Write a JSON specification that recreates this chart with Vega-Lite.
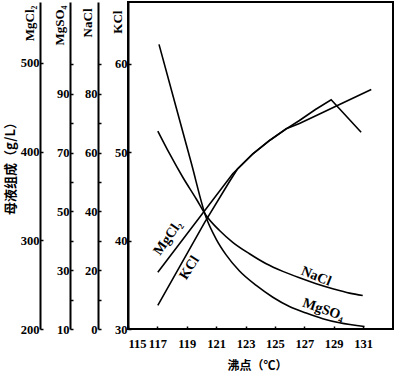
{
  "$schema": "https://vega.github.io/schema/vega-lite/v6.json",
  "autosize": {"type": "none"},
  "padding": {"left": 128, "top": 2, "right": 2, "bottom": 43},
  "width": 265,
  "height": 327,
  "title": {"text": "母液组成（g/L）", "orient": "left", "anchor": "middle", "font": "Noto Sans CJK SC", "fontSize": 13, "fontWeight": "bold", "color": "black", "offset": 2},
  "datasets": {
    "c": [
      {"s": "MgSO4", "t": 117.11, "v": 106.8},
      {"s": "MgSO4", "t": 118.28, "v": 85.3},
      {"s": "MgSO4", "t": 119.3, "v": 66.6},
      {"s": "MgSO4", "t": 120.32, "v": 47.9},
      {"s": "MgSO4", "t": 121.0, "v": 40.6},
      {"s": "MgSO4", "t": 121.68, "v": 35.2},
      {"s": "MgSO4", "t": 122.59, "v": 29.7},
      {"s": "MgSO4", "t": 123.73, "v": 24.8},
      {"s": "MgSO4", "t": 124.86, "v": 20.8},
      {"s": "MgSO4", "t": 125.99, "v": 17.65},
      {"s": "MgSO4", "t": 127.13, "v": 15.4},
      {"s": "MgSO4", "t": 128.26, "v": 13.5},
      {"s": "MgSO4", "t": 129.4, "v": 12.1},
      {"s": "MgSO4", "t": 131.1, "v": 10.85},
      {"s": "NaCl", "t": 117.03, "v": 67.3},
      {"s": "NaCl", "t": 117.83, "v": 59.6},
      {"s": "NaCl", "t": 118.73, "v": 51.6},
      {"s": "NaCl", "t": 119.64, "v": 44.3},
      {"s": "NaCl", "t": 120.32, "v": 38.6},
      {"s": "NaCl", "t": 121.23, "v": 33.5},
      {"s": "NaCl", "t": 122.13, "v": 29.5},
      {"s": "NaCl", "t": 123.27, "v": 25.6},
      {"s": "NaCl", "t": 124.41, "v": 22.2},
      {"s": "NaCl", "t": 125.54, "v": 19.6},
      {"s": "NaCl", "t": 126.67, "v": 17.4},
      {"s": "NaCl", "t": 127.81, "v": 15.4},
      {"s": "NaCl", "t": 128.94, "v": 13.7},
      {"s": "NaCl", "t": 130.08, "v": 12.2},
      {"s": "NaCl", "t": 130.98, "v": 11.4},
      {"s": "MgCl2", "t": 117.03, "v": 264.0},
      {"s": "MgCl2", "t": 122.13, "v": 375.0},
      {"s": "MgCl2", "t": 123.5, "v": 397.5},
      {"s": "MgCl2", "t": 124.63, "v": 412.5},
      {"s": "MgCl2", "t": 125.77, "v": 425.7},
      {"s": "MgCl2", "t": 126.67, "v": 431.7},
      {"s": "MgCl2", "t": 128.04, "v": 442.4},
      {"s": "MgCl2", "t": 129.4, "v": 453.1},
      {"s": "MgCl2", "t": 131.56, "v": 470.0},
      {"s": "KCl", "t": 117.03, "v": 32.66},
      {"s": "KCl", "t": 120.21, "v": 42.03},
      {"s": "KCl", "t": 121.91, "v": 46.67},
      {"s": "KCl", "t": 122.45, "v": 48.08},
      {"s": "KCl", "t": 123.5, "v": 49.8},
      {"s": "KCl", "t": 124.63, "v": 51.3},
      {"s": "KCl", "t": 125.77, "v": 52.62},
      {"s": "KCl", "t": 126.67, "v": 53.56},
      {"s": "KCl", "t": 127.76, "v": 54.8},
      {"s": "KCl", "t": 128.83, "v": 55.9},
      {"s": "KCl", "t": 130.87, "v": 52.24}
    ],
    "lab": [
      {"s": "MgCl2", "t": 117.71, "v": 302.6, "text": "MgCl₂"},
      {"s": "KCl", "t": 119.19, "v": 36.9, "text": "KCl"},
      {"s": "NaCl", "t": 127.81, "v": 17.9, "text": "NaCl"},
      {"s": "MgSO4", "t": 128.31, "v": 16.6, "text": "MgSO₄"}
    ]
  },
  "encoding": {
    "x": {"field": "t", "type": "quantitative",
      "scale": {"domain": [115, 133.04], "nice": false, "zero": false},
      "axis": {"values": [115, 117, 119, 121, 123, 125, 127, 129, 131], "format": "d", "title": "沸点（℃）", "titleFont": "Noto Sans CJK SC", "titleFontSize": 12, "tickSize": -3, "labelPadding": 11, "titlePadding": 11, "titleX": 129, "domain": false}}
  },
  "layer": [
    {
      "encoding": {"y": {"field": "v", "type": "quantitative",
        "scale": {"domain": [30, 66.95], "nice": false, "zero": false},
        "axis": {"orient": "left", "offset": 0, "values": [30, 40, 50, 60], "title": "KCl", "titleX": -11, "titleY": 8, "titleAngle": -90, "titleAlign": "right", "titleBaseline": "middle"}}},
      "layer": [
        {"data": {"name": "c"}, "transform": [{"filter": "datum.s == 'KCl'"}], "mark": {"type": "line", "color": "black", "strokeWidth": 1.6}},
        {"data": {"name": "lab"}, "transform": [{"filter": "datum.s == 'KCl'"}], "mark": {"type": "text", "angle": -58, "font": "Liberation Serif", "fontSize": 14, "fontWeight": "bold", "color": "black"}, "encoding": {"text": {"field": "text"}}}
      ]
    },
    {
      "encoding": {"y": {"field": "v", "type": "quantitative",
        "scale": {"domain": [0, 111.2], "nice": false, "zero": false},
        "axis": {"orient": "left", "offset": 30, "values": [0, 10, 20, 30, 40, 50, 60, 70, 80, 90], "labelExpr": "datum.value % 20 == 0 ? datum.label : ''", "title": "NaCl", "titleX": -11, "titleY": 6, "titleAngle": -90, "titleAlign": "right", "titleBaseline": "middle"}}},
      "layer": [
        {"data": {"name": "c"}, "transform": [{"filter": "datum.s == 'NaCl'"}], "mark": {"type": "line", "color": "black", "strokeWidth": 1.6, "interpolate": "monotone"}},
        {"data": {"name": "lab"}, "transform": [{"filter": "datum.s == 'NaCl'"}], "mark": {"type": "text", "angle": 22, "font": "Liberation Serif", "fontSize": 14, "fontWeight": "bold", "color": "black"}, "encoding": {"text": {"field": "text"}}}
      ]
    },
    {
      "encoding": {"y": {"field": "v", "type": "quantitative",
        "scale": {"domain": [10, 121.2], "nice": false, "zero": false},
        "axis": {"orient": "left", "offset": 58, "values": [10, 20, 30, 40, 50, 60, 70, 80, 90, 100], "labelExpr": "datum.value % 20 == 10 ? datum.label : ''", "title": "MgSO₄", "titleX": -11, "titleY": 3, "titleAngle": -90, "titleAlign": "right", "titleBaseline": "middle"}}},
      "layer": [
        {"data": {"name": "c"}, "transform": [{"filter": "datum.s == 'MgSO4'"}], "mark": {"type": "line", "color": "black", "strokeWidth": 1.6, "interpolate": "monotone"}},
        {"data": {"name": "lab"}, "transform": [{"filter": "datum.s == 'MgSO4'"}], "mark": {"type": "text", "angle": 19, "font": "Liberation Serif", "fontSize": 14, "fontWeight": "bold", "color": "black"}, "encoding": {"text": {"field": "text"}}}
      ]
    },
    {
      "encoding": {"y": {"field": "v", "type": "quantitative",
        "scale": {"domain": [200, 568.7], "nice": false, "zero": false},
        "axis": {"orient": "left", "offset": 88, "values": [200, 300, 400, 500], "title": "MgCl₂", "titleX": -11, "titleY": 3, "titleAngle": -90, "titleAlign": "right", "titleBaseline": "middle"}}},
      "layer": [
        {"data": {"name": "c"}, "transform": [{"filter": "datum.s == 'MgCl2'"}], "mark": {"type": "line", "color": "black", "strokeWidth": 1.6}},
        {"data": {"name": "lab"}, "transform": [{"filter": "datum.s == 'MgCl2'"}], "mark": {"type": "text", "angle": -55, "font": "Liberation Serif", "fontSize": 14, "fontWeight": "bold", "color": "black"}, "encoding": {"text": {"field": "text"}}}
      ]
    }
  ],
  "resolve": {"scale": {"y": "independent"}, "axis": {"y": "independent"}},
  "config": {
    "view": {"stroke": "black", "strokeWidth": 2},
    "axis": {"domainColor": "black", "domainWidth": 2, "tickColor": "black", "tickWidth": 1.5, "tickSize": -3, "labelPadding": 4, "labelColor": "black", "labelFont": "Liberation Serif", "labelFontSize": 12.5, "labelFontWeight": "bold", "titleFont": "Liberation Serif", "titleFontSize": 13, "titleFontWeight": "bold", "titleColor": "black", "grid": false}
  }
}
